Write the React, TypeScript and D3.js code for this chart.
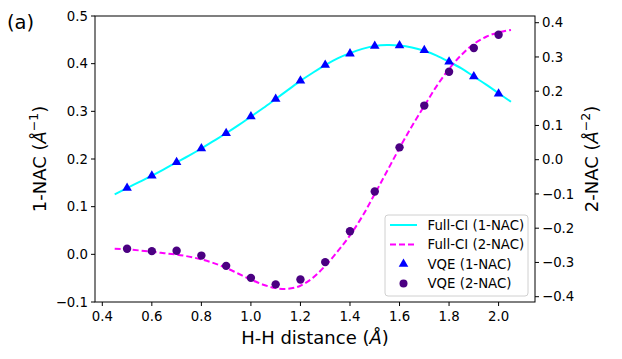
import React from 'react';
import * as d3 from 'd3';

// H-H distance grid for the Full-CI curves
const curveX = [0.45, 0.5, 0.55, 0.6, 0.65, 0.7, 0.75, 0.8, 0.85, 0.9, 0.95, 1.0, 1.05, 1.1, 1.15, 1.2, 1.25, 1.3, 1.35, 1.4, 1.45, 1.5, 1.55, 1.6, 1.65, 1.7, 1.75, 1.8, 1.85, 1.9, 1.95, 2.0, 2.05];
const fullCi1 = [0.126, 0.139, 0.152, 0.165, 0.179, 0.193, 0.207, 0.222, 0.238, 0.254, 0.271, 0.289, 0.307, 0.326, 0.345, 0.364, 0.381, 0.397, 0.411, 0.422, 0.431, 0.437, 0.439, 0.438, 0.434, 0.427, 0.417, 0.404, 0.39, 0.373, 0.356, 0.338, 0.32];
const fullCi2 = [-0.26, -0.262, -0.265, -0.269, -0.273, -0.277, -0.283, -0.291, -0.302, -0.316, -0.333, -0.35, -0.365, -0.375, -0.377, -0.368, -0.345, -0.31, -0.268, -0.221, -0.165, -0.1, -0.033, 0.034, 0.098, 0.157, 0.215, 0.265, 0.306, 0.338, 0.359, 0.372, 0.379];

// VQE points
const vqeX = [0.5, 0.6, 0.7, 0.8, 0.9, 1.0, 1.1, 1.2, 1.3, 1.4, 1.5, 1.6, 1.7, 1.8, 1.9, 2.0];
const vqe1 = [0.139, 0.165, 0.193, 0.222, 0.254, 0.289, 0.326, 0.364, 0.397, 0.421, 0.437, 0.438, 0.428, 0.404, 0.373, 0.337];
const vqe2 = [-0.26, -0.267, -0.266, -0.28, -0.31, -0.345, -0.364, -0.35, -0.299, -0.209, -0.093, 0.036, 0.158, 0.257, 0.326, 0.365];

const xTicks = [0.4, 0.6, 0.8, 1.0, 1.2, 1.4, 1.6, 1.8, 2.0];
const leftTicks = [-0.1, 0.0, 0.1, 0.2, 0.3, 0.4, 0.5];
const rightTicks = [-0.4, -0.3, -0.2, -0.1, 0.0, 0.1, 0.2, 0.3, 0.4];

const legendItems = ['Full-CI (1-NAC)', 'Full-CI (2-NAC)', 'VQE (1-NAC)', 'VQE (2-NAC)'];

const W = 622, H = 359;
const plot = { left: 95, right: 535, top: 16, bottom: 302 };
const font = 'DejaVu Sans, sans-serif';
const tickSize = 13.3;
const fmt = (v: number) => v.toFixed(1).replace('-', '\u2212');

export default function App() {
  const x = d3.scaleLinear().domain([0.3705, 2.147]).range([plot.left, plot.right]);
  const yL = d3.scaleLinear().domain([-0.1, 0.5]).range([plot.bottom, plot.top]);
  const yR = d3.scaleLinear().domain([-0.4155, 0.4196]).range([plot.bottom, plot.top]);

  const line1 = d3.line<number>().x((_, i) => x(curveX[i])).y(d => yL(d)).curve(d3.curveCatmullRom);
  const line2 = d3.line<number>().x((_, i) => x(curveX[i])).y(d => yR(d)).curve(d3.curveCatmullRom);
  const tri = d3.symbol().type(d3.symbolTriangle).size(40)();

  const lg = { x: 385, y: 215, w: 143, h: 81 };
  const rowY = (i: number) => lg.y + 10 + i * 19.5;

  return (
    <svg width={W} height={H} style={{ position: 'absolute', left: 0, top: 0, background: '#fff' }} fontFamily={font}>
      <text x={7} y={29} fontSize={19.5} fill="#000">(a)</text>

      <path d={line1(fullCi1) || ''} fill="none" stroke="#00ffff" strokeWidth={2} />
      <path d={line2(fullCi2) || ''} fill="none" stroke="#ff00ff" strokeWidth={2} strokeDasharray="6,3" />
      {vqeX.map((v, i) => (
        <path key={'t' + i} d={tri || ''} transform={`translate(${x(v)},${yL(vqe1[i])})`} fill="#0000ff" />
      ))}
      {vqeX.map((v, i) => (
        <circle key={'c' + i} cx={x(v)} cy={yR(vqe2[i])} r={4.2} fill="#4b0082" />
      ))}

      <rect x={plot.left} y={plot.top} width={plot.right - plot.left} height={plot.bottom - plot.top} fill="none" stroke="#000" strokeWidth={1} />

      {xTicks.map(t => (
        <g key={'x' + t} transform={`translate(${x(t)},${plot.bottom})`}>
          <line y2={4} stroke="#000" />
          <text y={19} textAnchor="middle" fontSize={tickSize}>{t.toFixed(1)}</text>
        </g>
      ))}
      {leftTicks.map(t => (
        <g key={'l' + t} transform={`translate(${plot.left},${yL(t)})`}>
          <line x2={-4} stroke="#000" />
          <text x={-7} dy="0.35em" textAnchor="end" fontSize={tickSize}>{fmt(t)}</text>
        </g>
      ))}
      {rightTicks.map(t => (
        <g key={'r' + t} transform={`translate(${plot.right},${yR(t)})`}>
          <line x2={4} stroke="#000" />
          <text x={7} dy="0.35em" textAnchor="start" fontSize={tickSize}>{fmt(t)}</text>
        </g>
      ))}

      <text x={(plot.left + plot.right) / 2} y={344} textAnchor="middle" fontSize={18}>
        H-H distance (<tspan fontStyle="italic">Å</tspan>)
      </text>
      <text transform={`translate(46,${(plot.top + plot.bottom) / 2}) rotate(-90)`} textAnchor="middle" fontSize={18}>
        1-NAC (<tspan fontStyle="italic">Å</tspan><tspan fontSize={12.5} dy={-8}>−1</tspan><tspan dy={8}>)</tspan>
      </text>
      <text transform={`translate(598,${(plot.top + plot.bottom) / 2}) rotate(-90)`} textAnchor="middle" fontSize={18}>
        2-NAC (<tspan fontStyle="italic">Å</tspan><tspan fontSize={12.5} dy={-8}>−2</tspan><tspan dy={8}>)</tspan>
      </text>

      <g>
        <rect x={lg.x} y={lg.y} width={lg.w} height={lg.h} rx={3} fill="#fff" fillOpacity={0.8} stroke="#d0d0d0" />
        <line x1={390} x2={417} y1={rowY(0)} y2={rowY(0)} stroke="#00ffff" strokeWidth={2} />
        <line x1={390} x2={417} y1={rowY(1)} y2={rowY(1)} stroke="#ff00ff" strokeWidth={2} strokeDasharray="6,3" />
        <path d={tri || ''} transform={`translate(403.5,${rowY(2)})`} fill="#0000ff" />
        <circle cx={403.5} cy={rowY(3)} r={4} fill="#4b0082" />
        {legendItems.map((s, i) => (
          <text key={s} x={427.5} y={rowY(i)} dy="0.35em" fontSize={tickSize}>{s}</text>
        ))}
      </g>
    </svg>
  );
}
